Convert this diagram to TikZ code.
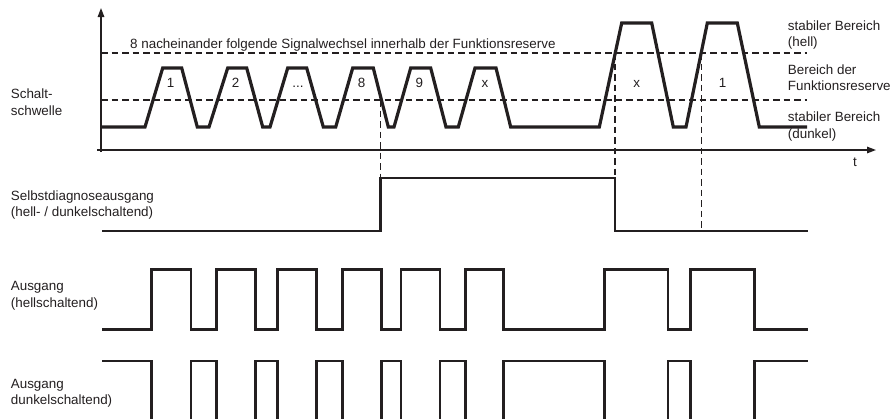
\documentclass[tikz,border=0pt]{standalone}
\usepackage{fontspec}
\setmainfont{Liberation Sans}
\usetikzlibrary{arrows.meta}
\definecolor{ink}{RGB}{35,31,32}
\begin{document}
\begin{tikzpicture}[x=1pt,y=-1pt,
  lbl/.style={inner sep=0pt,anchor=base west,text=ink,font=\fontsize{13.4}{16}\selectfont},
  plbl/.style={inner sep=0pt,anchor=base,text=ink,font=\fontsize{13.4}{16}\selectfont},
  axis/.style={draw=ink,line width=1.4pt},
  guide/.style={draw=ink,line width=1.2pt,dash pattern=on 6.5pt off 4pt},
  sig/.style={draw=ink,line width=3.2pt},
  dsig/.style={draw=ink,line width=2.6pt}]
\useasboundingbox (0,0) rectangle (890,418);
\clip (0,0) rectangle (890,418);
% axes
\coordinate (yb) at (101,152);
\coordinate (yt) at (101,8);
\coordinate (xl) at (97,150);
\coordinate (xr) at (876,150);
\draw[axis,-{Triangle[length=9pt,width=6.5pt]}] (yb) -- (yt);
\draw[axis,-{Triangle[length=9pt,width=6.5pt]}] (xl) -- (xr);
% threshold guides
\coordinate (gu1) at (101,53);
\coordinate (gu2) at (807,53);
\coordinate (gl1) at (101,100);
\coordinate (gl2) at (807,100);
\draw[guide] (gu1) -- (gu2);
\draw[guide] (gl1) -- (gl2);
% vertical guides
\coordinate (v1a) at (380.5,100);
\coordinate (v1b) at (380.5,178);
\coordinate (v2a) at (615,53);
\coordinate (v2b) at (615,178);
\coordinate (v3a) at (701.5,53);
\coordinate (v3b) at (701.5,231);
\draw[guide] (v1a) -- (v1b);
\draw[guide] (v2a) -- (v2b);
\draw[guide] (v3a) -- (v3b);
% analog signal
\draw[sig] (102,127) -- (145,127) -- (162.7,68) -- (181.7,68) -- (197.3,127) -- (209,127)
  -- (227.7,68) -- (246.7,68) -- (262.7,127) -- (270,127) -- (287.7,68) -- (306.7,68)
  -- (323.3,127) -- (335.7,127) -- (352.7,68) -- (373.3,68) -- (388.3,127) -- (394,127)
  -- (410.7,68) -- (430.7,68) -- (446,127) -- (458.3,127) -- (475,68) -- (496,68)
  -- (510.7,127) -- (599.3,127) -- (621.7,23) -- (651.7,23) -- (673.3,127) -- (686,127)
  -- (707.3,23) -- (737.3,23) -- (759.3,127) -- (807,127);
% self-diagnosis output
\draw[dsig] (102,231) -- (380.5,231) -- (380.5,178) -- (615,178) -- (615,231) -- (807.7,231);
% output light switching
\draw[dsig] (102,329.5) -- (151.7,329.5) -- (151.7,269.5) -- (191,269.5) -- (191,329.5)
  -- (216.7,329.5) -- (216.7,269.5) -- (255.7,269.5) -- (255.7,329.5)
  -- (277.3,329.5) -- (277.3,269.5) -- (316.7,269.5) -- (316.7,329.5)
  -- (342.3,329.5) -- (342.3,269.5) -- (381.7,269.5) -- (381.7,329.5)
  -- (401,329.5) -- (401,269.5) -- (440,269.5) -- (440,329.5)
  -- (465.7,329.5) -- (465.7,269.5) -- (503.3,269.5) -- (503.3,329.5)
  -- (604.5,329.5) -- (604.5,269.5) -- (668,269.5) -- (668,329.5)
  -- (690.5,329.5) -- (690.5,269.5) -- (754.5,269.5) -- (754.5,329.5) -- (807.7,329.5);
% output dark switching
\draw[dsig] (102,361) -- (151.7,361) -- (151.7,425) -- (191,425) -- (191,361)
  -- (216.7,361) -- (216.7,425) -- (255.7,425) -- (255.7,361)
  -- (277.3,361) -- (277.3,425) -- (316.7,425) -- (316.7,361)
  -- (342.3,361) -- (342.3,425) -- (381.7,425) -- (381.7,361)
  -- (401,361) -- (401,425) -- (440,425) -- (440,361)
  -- (465.7,361) -- (465.7,425) -- (503.3,425) -- (503.3,361)
  -- (604.5,361) -- (604.5,425) -- (668,425) -- (668,361)
  -- (690.5,361) -- (690.5,425) -- (754.5,425) -- (754.5,361) -- (807.7,361);
% texts
\node[lbl] (ttop) at (130,48.3) {8 nacheinander folgende Signalwechsel innerhalb der Funktionsreserve};
\node[plbl] (p1) at (170.7,87.5) {1};
\node[plbl] (p2) at (235.7,87.5) {2};
\node[plbl] (p3) at (298,87.5) {...};
\node[plbl] (p8) at (361.7,87.5) {8};
\node[plbl] (p9) at (419.3,87.5) {9};
\node[plbl] (px1) at (485,87.5) {x};
\node[plbl] (px2) at (636.7,87.5) {x};
\node[plbl] (p1b) at (722.7,87.5) {1};
\node[plbl] (tt) at (855,166.7) {t};
\node[lbl] (s1) at (10.7,98.3) {Schalt-};
\node[lbl] (s2) at (10.7,115) {schwelle};
\node[lbl] (d1) at (10.7,200.5) {Selbstdiagnoseausgang};
\node[lbl] (d2) at (10.7,216.7) {(hell- / dunkelschaltend)};
\node[lbl] (h1) at (10.7,290.7) {Ausgang};
\node[lbl] (h2) at (10.7,307.3) {(hellschaltend)};
\node[lbl] (k1) at (10.7,388.3) {Ausgang};
\node[lbl] (k2) at (10.7,404.3) {dunkelschaltend)};
\node[lbl] (r1) at (787.7,30) {stabiler Bereich};
\node[lbl] (r2) at (787.7,46.7) {(hell)};
\node[lbl] (r3) at (787.7,74) {Bereich der};
\node[lbl] (r4) at (787.7,90) {Funktionsreserve};
\node[lbl] (r5) at (787.7,121.7) {stabiler Bereich};
\node[lbl] (r6) at (787.7,138.3) {(dunkel)};
\end{tikzpicture}
\end{document}
